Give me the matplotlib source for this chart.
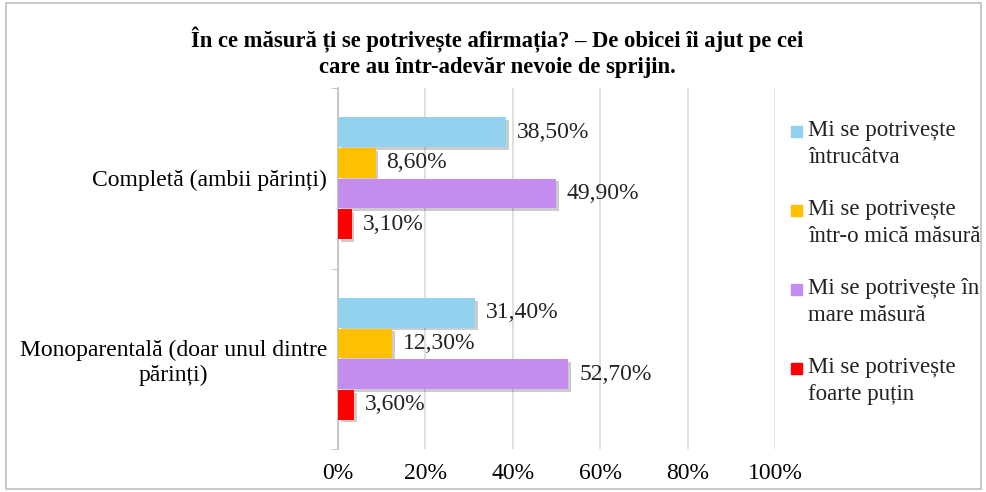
import numpy as np
import matplotlib.pyplot as plt
from matplotlib.patches import Rectangle
import matplotlib.patheffects as pe

plt.rcParams['font.family'] = ['Liberation Serif', 'DejaVu Serif']

categories = ['Completă (ambii părinți)', 'Monoparentală (doar unul dintre\npărinți)']
series = ['Mi se potrivește\nîntrucâtva',
          'Mi se potrivește\nîntr-o mică măsură',
          'Mi se potrivește în\nmare măsură',
          'Mi se potrivește\nfoarte puțin']
values = [
    [38.5, 31.4],
    [8.6, 12.3],
    [49.9, 52.7],
    [3.1, 3.6],
]
colors = ['#92D2EE', '#FFC000', '#C58CF0', '#FF0000']
title = 'În ce măsură ți se potrivește afirmația? – De obicei îi ajut pe cei\ncare au într-adevăr nevoie de sprijin.'

fig = plt.figure(figsize=(9.87, 4.92), dpi=100)
ax = fig.add_axes([338/987, 1-449/492, (775-338)/987, (449-88)/492])

bh = 0.165
y = np.arange(len(categories))
shadow = [pe.SimplePatchShadow(offset=(2, -2), shadow_rgbFace='#000000', alpha=0.2), pe.Normal()]
for i, (s, v, c) in enumerate(zip(series, values, colors)):
    pos = y + (i - 1.5) * (bh + 0.005)
    bars = ax.barh(pos, v, height=bh, color=c, label=s, zorder=3)
    for b in bars:
        b.set_path_effects(shadow)
    for p, val in zip(pos, v):
        ax.text(val + 2.5, p, ('%.2f%%' % val).replace('.', ','), va='center', ha='left',
                fontsize=17, color='#222222', zorder=4)

ax.set_xlim(0, 100)
ax.set_ylim(1.5, -0.5)
ax.set_xticks(np.arange(0, 101, 20))
ax.set_xticklabels(['%d%%' % t for t in range(0, 101, 20)], fontsize=17)
ax.set_yticks(y)
ax.set_yticklabels(categories, fontsize=17, multialignment='center')
ax.set_yticks([-0.5, 0.5, 1.5], minor=True)
ax.tick_params(axis='y', which='major', length=0, pad=8)
ax.tick_params(axis='y', which='minor', length=5, color='#BFBFBF')
ax.tick_params(axis='x', length=0, pad=10)
ax.grid(axis='x', color='#D9D9D9', linewidth=1.2, zorder=0)
for sp in ['top', 'right', 'bottom']:
    ax.spines[sp].set_visible(False)
ax.spines['left'].set_color('#BFBFBF')
ax.spines['left'].set_linewidth(1.2)

fig.text(497/987, 1-52/492, title, ha='center', va='center', fontsize=16.3, fontweight='bold',
         linespacing=1.25)

# legend drawn by hand so the swatch sits on the first line
leg_y = [131, 210, 289, 368]
for s, c, ly in zip(series, colors, leg_y):
    fig.patches.append(Rectangle((791/987, 1-(ly+6)/492), 11/987, 11/492,
                                 transform=fig.transFigure, color=c))
    fig.text(808/987, 1-(ly-11)/492, s, ha='left', va='top', fontsize=16.5,
             linespacing=1.4, color='#222222')

fig.patches.append(Rectangle((0.006, 0.006), 0.988, 0.988, transform=fig.transFigure,
                             fill=False, edgecolor='#BFBFBF', linewidth=1.2))

fig.savefig('out.png', dpi=100)
